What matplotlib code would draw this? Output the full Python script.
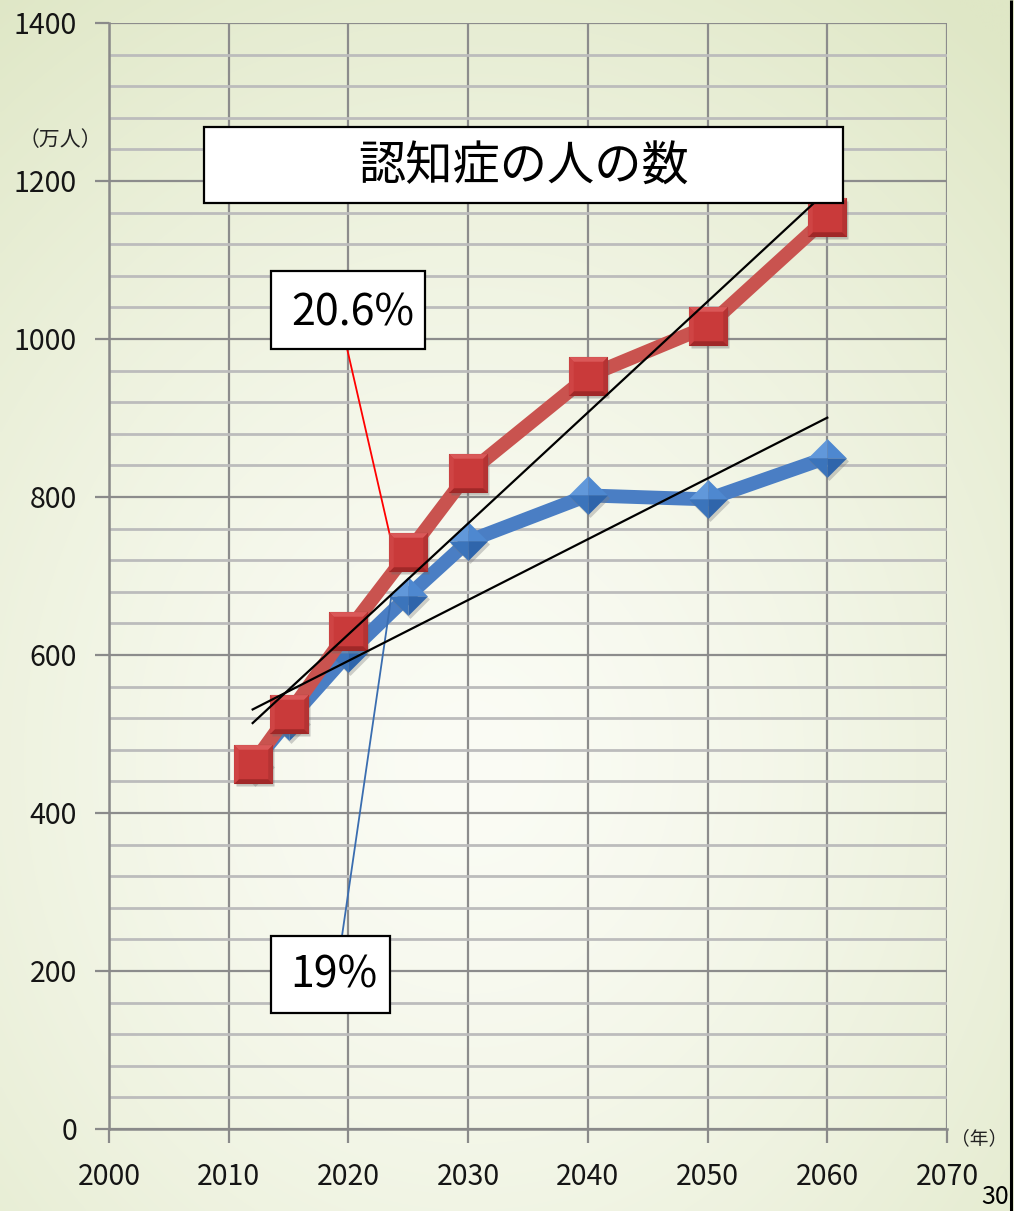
import numpy as np
import matplotlib
matplotlib.use("Agg")
import matplotlib.pyplot as plt
from matplotlib.path import Path
from matplotlib.patches import Rectangle
import matplotlib.transforms as mtransforms

plt.rcParams['font.family'] = ['Noto Sans CJK JP', 'DejaVu Sans']

# ---- data -------------------------------------------------------------
years = [2012, 2015, 2020, 2025, 2030, 2040, 2050, 2060]
dementia_high = [462, 525, 631, 730, 830, 953, 1016, 1154]   # 万人
dementia_low = [462, 517, 602, 675, 744, 802, 797, 850]      # 万人

title_text = "認知症の人の数"
label_high = "20.6%"
label_low = "19%"
x_ticks = [2000, 2010, 2020, 2030, 2040, 2050, 2060, 2070]
y_ticks = [0, 200, 400, 600, 800, 1000, 1200, 1400]
unit_y = "（万人）"
unit_x = "（年）"
page_no = "30"

W, H = 1014, 1211
fig = plt.figure(figsize=(W / 100, H / 100), dpi=100)

# ---- soft radial background ----------------------------------------
bg = fig.add_axes([0, 0, 1, 1], zorder=-10)
gx, gy = np.meshgrid(np.linspace(0, W, 300), np.linspace(0, H, 360))
d = np.sqrt(((gx - 470) / 1.0) ** 2 + ((gy - 760) / 1.15) ** 2) / 820.0
t = np.clip(d, 0, 1) ** 1.4
c0 = np.array([0xfb, 0xfc, 0xf5]) / 255.0
c1 = np.array([0xdf, 0xe7, 0xc6]) / 255.0
img = c0[None, None, :] * (1 - t[..., None]) + c1[None, None, :] * t[..., None]
bg.imshow(img, extent=[0, W, H, 0], aspect='auto', interpolation='bilinear')
bg.set_xlim(0, W)
bg.set_ylim(H, 0)
bg.axis('off')
# right-hand frame line
bg.plot([1010.5, 1010.5], [0, H], color='black', lw=2.2, solid_capstyle='butt', zorder=5)

# ---- main axes --------------------------------------------------------
ax_l, ax_r, ax_t, ax_b = 109, 947, 23, 1129
ax = fig.add_axes([ax_l / W, 1 - ax_b / H, (ax_r - ax_l) / W, (ax_b - ax_t) / H])
ax.patch.set_alpha(0)
ax.set_xlim(2000, 2070)
ax.set_ylim(0, 1400)
ax.set_xticks(x_ticks)
ax.set_yticks(y_ticks)
ax.set_yticks(np.arange(0, 1401, 40), minor=True)
ax.tick_params(axis='both', which='major', length=10, width=1.6, color='#8a8a8a',
               labelsize=20.5, labelcolor='#151515')
ax.tick_params(axis='y', which='major', pad=13)
ax.tick_params(axis='x', which='major', pad=14)
ax.tick_params(axis='y', which='minor', length=0)
ax.grid(True, which='major', axis='both', color='#8c8c8c', lw=1.6, zorder=0)
ax.grid(True, which='minor', axis='y', color='#bcbcbc', lw=2.0, zorder=0)
ax.set_axisbelow(True)
for s in ['top', 'right']:
    ax.spines[s].set_visible(False)
for s in ['left', 'bottom']:
    ax.spines[s].set_color('#8a8a8a')
    ax.spines[s].set_linewidth(1.8)

# ---- bevelled markers built from marker paths ---------------------------
def facet(*pts):
    verts = list(pts) + [pts[0]]
    codes = [Path.MOVETO] + [Path.LINETO] * (len(pts) - 1) + [Path.CLOSEPOLY]
    return Path(verts, codes)

ms = 28
shadow = mtransforms.offset_copy(ax.transData, fig=fig, x=2, y=-3, units='dots')

# diamond facets (top-left, top-right, bottom-right, bottom-left)
dia_facets = [
    (facet((0, 0), (-1, 0), (0, 1)), '#6198da'),
    (facet((0, 0), (0, 1), (1, 0)), '#4e88d0'),
    (facet((0, 0), (1, 0), (0, -1)), '#2f65ab'),
    (facet((0, 0), (0, -1), (-1, 0)), '#3b74bb'),
]
dia_outline = facet((-1, 0), (0, 1), (1, 0), (0, -1))

# square bevels (top, right, bottom, left) around a flat face
k = 0.76
sq_outline = facet((-1, -1), (1, -1), (1, 1), (-1, 1))
sq_facets = [
    (facet((-1, 1), (1, 1), (k, k), (-k, k)), '#da5858'),
    (facet((1, 1), (1, -1), (k, -k), (k, k)), '#b53333'),
    (facet((1, -1), (-1, -1), (-k, -k), (k, -k)), '#a02828'),
    (facet((-1, -1), (-1, 1), (-k, k), (-k, -k)), '#cf4444'),
]

# blue series
ax.plot(years, dementia_low, color='#4a7ec4', lw=10, solid_capstyle='butt', zorder=3)
ax.plot(years, dementia_low, ls='none', marker=dia_outline, ms=ms, mfc='#7a7a7a',
        mec='none', alpha=0.35, transform=shadow, zorder=3.5)
for p, c in dia_facets:
    ax.plot(years, dementia_low, ls='none', marker=p, ms=ms, mfc=c, mec='none', zorder=4)

# red series
ax.plot(years, dementia_high, color='#c9534f', lw=10, solid_capstyle='butt', zorder=5)
ax.plot(years, dementia_high, ls='none', marker=sq_outline, ms=ms, mfc='#6a6a6a',
        mec='none', alpha=0.35, transform=shadow, zorder=5.5)
ax.plot(years, dementia_high, ls='none', marker=sq_outline, ms=ms, mfc='#c93a3a',
        mec='#8e2424', mew=0.8, zorder=6)
for p, c in sq_facets:
    ax.plot(years, dementia_high, ls='none', marker=p, ms=ms, mfc=c, mec='none', zorder=6.5)

# linear trend lines over 2012–2060
xs = np.array([years[0], years[-1]], dtype=float)
for series in (dementia_high, dementia_low):
    a, b = np.polyfit(years, series, 1)
    ax.plot(xs, a * xs + b, color='black', lw=1.6, zorder=7)

# ---- callouts -----------------------------------------------------------
ax.plot([2019.9, 2023.5], [987, 749], color='#ff0000', lw=1.3, zorder=5.8)
ax.plot([2019.45, 2023.6], [243, 676], color='#3a6db0', lw=1.3, zorder=4.5)

def boxed(x0, x1, y0, y1, text, tx, ty, size):
    # pixel box -> axes fraction
    fx0 = (x0 - ax_l) / (ax_r - ax_l)
    fx1 = (x1 - ax_l) / (ax_r - ax_l)
    fy0 = (ax_b - y1) / (ax_b - ax_t)
    fy1 = (ax_b - y0) / (ax_b - ax_t)
    ax.add_patch(Rectangle((fx0, fy0), fx1 - fx0, fy1 - fy0, transform=ax.transAxes,
                           facecolor='white', edgecolor='black', lw=1.6, zorder=9,
                           clip_on=False))
    ax.text((tx - ax_l) / (ax_r - ax_l), (ax_b - ty) / (ax_b - ax_t), text,
            transform=ax.transAxes, ha='center', va='center', fontsize=size,
            color='black', zorder=10)

boxed(204, 843, 127, 203, title_text, 524, 167, 34)
boxed(271, 425, 271, 349, label_high, 353, 314, 31)
boxed(271, 390, 936, 1013, label_low, 334, 976, 31)

# ---- units and page number ----------------------------------------------
fig.text(60 / W, 1 - 140 / H, unit_y, ha='center', va='center', fontsize=15, color='#222222')
fig.text(979 / W, 1 - 1139 / H, unit_x, ha='center', va='center', fontsize=13.5, color='#222222')
fig.text(981 / W, 1 - 1204 / H, page_no, ha='left', va='baseline', fontsize=18, color='black')

fig.savefig('out.png', dpi=100)
